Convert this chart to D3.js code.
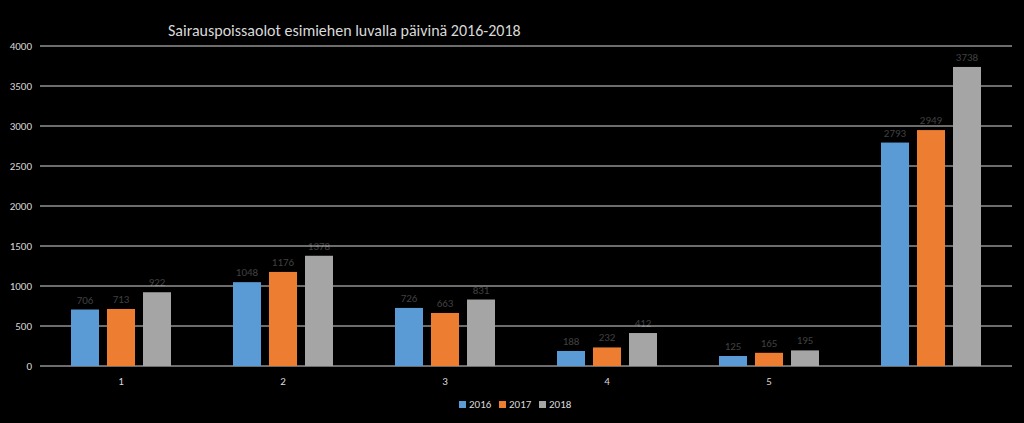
<!DOCTYPE html><html><head><script src="https://cdn.jsdelivr.net/npm/d3@7"></script>
<style>body{margin:0;background:#000}</style></head><body><svg id="c" width="1024" height="423"></svg>
<script>
const categories=["1","2","3","4","5",""];
const seriesNames=["2016","2017","2018"];
const v2016=[706,1048,726,188,125,2793];
const v2017=[713,1176,663,232,165,2949];
const v2018=[922,1378,831,412,195,3738];
const yTicks=[0,500,1000,1500,2000,2500,3000,3500,4000];
const colors=["#5b9bd5","#ed7d31","#a5a5a5"];
const series=[v2016,v2017,v2018];
const svg=d3.select("#c");
svg.append("rect").attr("width",1024).attr("height",423).attr("fill","#000");
const x=d3.scaleBand().domain(d3.range(6)).range([40,1012]);
const y=d3.scaleLinear().domain([0,4000]).range([366,46]);
const f="Calibri, Carlito, 'Liberation Sans', sans-serif";
svg.append("text").attr("x",168).attr("y",36).attr("fill","#d9d9d9").attr("font-family",f).attr("font-size",16).text("Sairauspoissaolot esimiehen luvalla päivinä 2016-2018");
// labels first (drawn behind gridlines)
const bw=28,gap=8;
series.forEach((s,i)=>{
  s.forEach((d,j)=>{
    const cx=x(j)+x.bandwidth()/2+(i-1)*(bw+gap);
    svg.append("text").attr("x",cx).attr("y",y(d)-6).attr("text-anchor","middle").attr("fill","#404040").attr("font-family",f).attr("font-size",11).text(d);
  });
});
yTicks.forEach(t=>{
  svg.append("line").attr("x1",40).attr("x2",1012).attr("y1",y(t)).attr("y2",y(t)).attr("stroke","#d9d9d9").attr("stroke-width",1);
  svg.append("text").attr("x",32).attr("y",y(t)+4).attr("text-anchor","end").attr("fill","#d9d9d9").attr("font-family",f).attr("font-size",11).text(t);
});
series.forEach((s,i)=>{
  svg.selectAll(null).data(s).enter().append("rect")
   .attr("x",(d,j)=>x(j)+x.bandwidth()/2+(i-1)*(bw+gap)-bw/2).attr("width",bw)
   .attr("y",d=>y(d)).attr("height",d=>y(0)-y(d)).attr("fill",colors[i]);
});
categories.forEach((c,j)=>{
  svg.append("text").attr("x",x(j)+x.bandwidth()/2).attr("y",385).attr("text-anchor","middle").attr("fill","#d9d9d9").attr("font-family",f).attr("font-size",11).text(c);
});
const lg=svg.append("g");
let lx=459;
seriesNames.forEach((n,i)=>{
  lg.append("rect").attr("x",lx).attr("y",401).attr("width",7).attr("height",7).attr("fill",colors[i]);
  lg.append("text").attr("x",lx+10).attr("y",408).attr("fill","#d9d9d9").attr("font-family",f).attr("font-size",11).text(n);
  lx+=40;
});
</script></body></html>
